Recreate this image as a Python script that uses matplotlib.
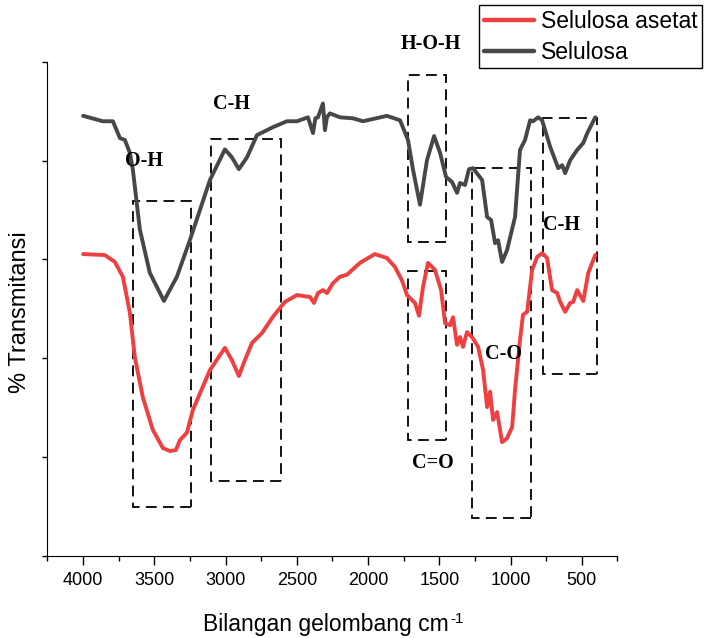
import numpy as np
import matplotlib
matplotlib.use("Agg")
import matplotlib.pyplot as plt
from matplotlib.patches import Rectangle
from matplotlib.ticker import MultipleLocator, NullFormatter

plt.rcParams['font.family'] = ['Liberation Sans', 'DejaVu Sans']

# FTIR spectrum of cellulose (wavenumber cm-1, %T)
wn_selulosa = [4000, 3862, 3791, 3742, 3707, 3672, 3651, 3602, 3532, 3433,
               3342, 3251, 3110, 3005, 2956, 2907, 2850, 2780, 2668, 2570,
               2499, 2422, 2387, 2370, 2352, 2317, 2303, 2289, 2268, 2198,
               2107, 2036, 1868, 1776, 1720, 1685, 1636, 1587, 1537, 1495,
               1453, 1411, 1376, 1355, 1320, 1292, 1264, 1200, 1165, 1137,
               1109, 1088, 1060, 1025, 969, 934, 899, 863, 842, 807,
               779, 722, 666, 638, 617, 582, 533, 490, 462, 406]
t_selulosa = [89.1, 88.0, 88.0, 84.6, 84.2, 81.6, 78.2, 66.1, 57.3, 51.6,
              56.5, 63.9, 76.1, 82.3, 80.7, 78.3, 80.7, 85.2, 86.8, 88.0,
              88.0, 88.8, 85.6, 88.6, 88.8, 91.6, 86.2, 88.8, 89.6, 88.8,
              88.6, 88.0, 89.1, 88.2, 84.2, 78.2, 71.1, 80.1, 85.0, 81.6,
              76.7, 75.7, 73.5, 75.5, 75.1, 78.3, 78.5, 76.1, 68.6, 68.0,
              63.3, 63.9, 59.5, 61.9, 68.6, 82.2, 84.2, 88.2, 88.0, 88.8,
              88.2, 82.8, 78.5, 79.1, 77.5, 80.1, 82.2, 83.6, 85.6, 88.8]

# FTIR spectrum of cellulose acetate
wn_asetat = [4000, 3848, 3777, 3721, 3672, 3637, 3581, 3511, 3440, 3391,
             3349, 3321, 3272, 3230, 3110, 3005, 2956, 2907, 2865, 2815,
             2745, 2668, 2584, 2499, 2408, 2380, 2352, 2317, 2289, 2247,
             2198, 2149, 2058, 1953, 1868, 1812, 1763, 1727, 1671, 1643,
             1615, 1580, 1531, 1488, 1460, 1425, 1404, 1376, 1355, 1334,
             1306, 1271, 1228, 1193, 1165, 1144, 1123, 1095, 1060, 1025,
             989, 969, 934, 913, 884, 849, 814, 779, 744, 709,
             673, 652, 617, 582, 561, 533, 490, 455, 406]
t_asetat = [61.1, 60.9, 59.5, 56.5, 49.2, 40.2, 32.1, 25.5, 21.8, 21.2,
            21.4, 23.4, 24.9, 29.5, 37.6, 42.1, 39.6, 36.4, 39.6, 43.1,
            45.1, 48.4, 51.4, 52.8, 52.4, 51.2, 53.2, 53.8, 53.2, 55.2,
            56.5, 56.9, 59.3, 61.1, 60.3, 58.5, 55.8, 52.8, 51.2, 48.6,
            54.4, 59.3, 57.9, 53.8, 47.1, 46.7, 48.3, 42.7, 44.3, 42.3,
            45.3, 44.3, 42.3, 37.6, 30.1, 33.2, 27.5, 29.1, 23.0, 23.8,
            26.1, 33.6, 43.7, 48.8, 49.4, 57.9, 60.5, 61.3, 60.3, 53.8,
            53.2, 51.4, 49.4, 51.2, 51.4, 53.8, 51.6, 57.3, 60.9]

# marked absorption bands: (wn high, wn low), (%T bottom, %T top)
band_names = ['O-H', 'C-H', 'H-O-H', 'C=O', 'C-O', 'C-H']
band_wn = [(3649, 3246), (3105, 2614), (1718, 1455), (1718, 1455), (1271, 856), (770, 395)]
band_t = [(9.9, 71.9), (15.2, 84.5), (63.6, 97.4), (23.4, 57.7), (7.6, 78.6), (36.8, 88.7)]
label_pos = [(3573, 80.0), (2958, 91.4), (1558, 103.6), (1547, 18.8), (1051, 40.9), (641, 67.0)]

fig = plt.figure(figsize=(7.1, 6.38), dpi=100)
ax = fig.add_axes([0.0669, 0.1290, 0.8028, 0.7738])

ax.plot(wn_asetat, t_asetat, color='#EE4040', lw=2.8, label='Selulosa asetat',
        solid_joinstyle='round', solid_capstyle='round')
ax.plot(wn_selulosa, t_selulosa, color='#474747', lw=2.8, label='Selulosa',
        solid_joinstyle='round', solid_capstyle='round')

for (w1, w2), (t1, t2) in zip(band_wn, band_t):
    ax.add_patch(Rectangle((w2, t1), w1 - w2, t2 - t1, fill=False, ec='black',
                           lw=1.3, ls=(0, (6, 3.5)), clip_on=False))

for name, (w, t) in zip(band_names, label_pos):
    ax.text(w, t, name, ha='center', va='center', fontsize=14.5, fontweight='bold',
            family='Liberation Serif', clip_on=False)

ax.set_xlim(4250, 250)
ax.set_ylim(0, 100)
ax.xaxis.set_major_locator(MultipleLocator(500))
ax.xaxis.set_minor_locator(MultipleLocator(500, offset=250))
ax.yaxis.set_major_locator(MultipleLocator(20))
ax.yaxis.set_major_formatter(NullFormatter())
ax.tick_params(axis='x', which='major', length=6.5, width=1, labelsize=13, pad=5)
ax.tick_params(axis='x', which='minor', length=3.5, width=1)
ax.tick_params(axis='y', length=3.5, width=1)
for side in ['top', 'right']:
    ax.spines[side].set_visible(False)

# axis titles
fig.text(20 / 710, 1 - 312 / 638, '% Transmitansi', fontsize=17, rotation=90,
         ha='center', va='center')
xl = fig.text(203 / 710, 7 / 638, 'Bilangan gelombang cm', fontsize=16.5,
              ha='left', va='baseline')
ax.annotate('-1', xy=(1, 1), xycoords=xl, xytext=(1, 1), textcoords='offset points',
            ha='left', va='top', fontsize=11)

leg = ax.legend(loc='upper right', bbox_to_anchor=(0.989, 0.992),
                bbox_transform=fig.transFigure, fontsize=16.5, frameon=True,
                fancybox=False, edgecolor='black', framealpha=1,
                borderaxespad=0, borderpad=0.2, handlelength=2.2,
                handletextpad=0.3, labelspacing=0.35)
leg.get_frame().set_linewidth(1.0)
for line in leg.get_lines():
    line.set_linewidth(3.2)

fig.savefig('out.png', dpi=100)
